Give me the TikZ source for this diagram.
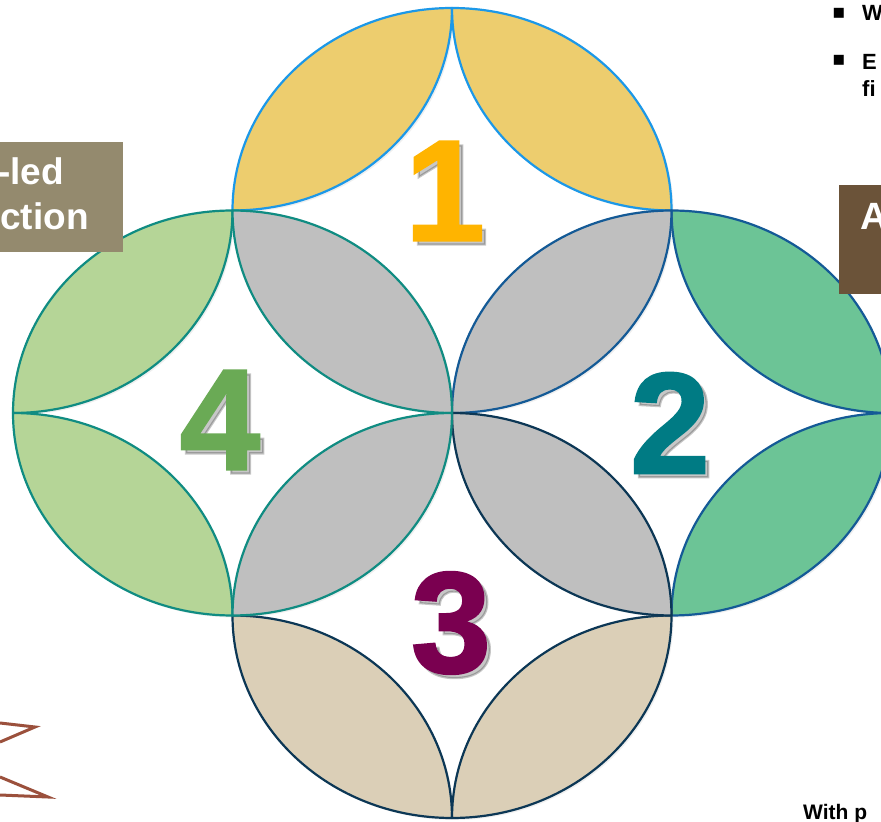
\documentclass[tikz,border=0pt]{standalone}
\usepackage{fontspec}
\setmainfont{Liberation Sans}
\newfontfamily\symfont{DejaVu Sans}
\newfontfamily\numfont[BoldFeatures={FakeBold=1.6}]{Liberation Sans}
\usetikzlibrary{shadows}
\definecolor{yelfill}{RGB}{237,205,110}
\definecolor{yelline}{RGB}{28,152,232}
\definecolor{lgrfill}{RGB}{181,213,151}
\definecolor{lgrline}{RGB}{16,140,130}
\definecolor{grnfill}{RGB}{108,196,150}
\definecolor{grnline}{RGB}{20,90,150}
\definecolor{tanfill}{RGB}{219,207,183}
\definecolor{tanline}{RGB}{12,55,85}
\definecolor{gryfill}{RGB}{191,191,191}
\definecolor{numA}{RGB}{255,180,0}
\definecolor{numB}{RGB}{0,123,132}
\definecolor{numC}{RGB}{122,0,80}
\definecolor{numD}{RGB}{106,170,85}
\definecolor{boxL}{RGB}{148,138,110}
\definecolor{boxR}{RGB}{107,83,57}
\definecolor{zigcol}{RGB}{155,80,60}
\newcommand\lens[6]{%
  \path[#1] #2
    arc[start angle=#3,end angle=#4,x radius=219.5pt,y radius=202.5pt]
    arc[start angle=#5,end angle=#6,x radius=219.5pt,y radius=202.5pt] -- cycle;}
\tikzset{
  petal/.style={line width=2.2pt, line join=round,
    drop shadow={shadow xshift=2pt, shadow yshift=-2pt, opacity=0.12}},
  num/.style={inner sep=0pt, font=\numfont\fontsize{144}{144}\selectfont\bfseries},
  numshadow/.style={num, text=black, opacity=0.22},
  boxtext/.style={inner sep=0pt, text=white, font=\bfseries},
  bullettext/.style={inner sep=0pt, font=\fontsize{22}{26}\selectfont\bfseries}
}
\begin{document}
\begin{tikzpicture}[x=1pt,y=1pt]
\useasboundingbox (0,0) rectangle (881,822);
\fill[white] (0,0) rectangle (881,822);
\begin{scope}[shift={(452,409)}]
  % group 1 (yellow)
  \lens{petal,fill=yelfill,draw=yelline}{(-219.5,202.5)}{180}{90}{0}{-90}
  \lens{petal,fill=yelfill,draw=yelline}{(219.5,202.5)}{0}{90}{180}{270}
  % group 2 (green)
  \lens{petal,fill=grnfill,draw=grnline}{(439,0)}{0}{90}{180}{270}
  \lens{petal,fill=grnfill,draw=grnline}{(439,0)}{0}{-90}{180}{90}
  \lens{petal,fill=gryfill,draw=grnline}{(219.5,202.5)}{0}{-90}{180}{90}
  % group 3 (tan)
  \lens{petal,fill=tanfill,draw=tanline}{(-219.5,-202.5)}{180}{270}{0}{90}
  \lens{petal,fill=tanfill,draw=tanline}{(219.5,-202.5)}{0}{-90}{180}{90}
  \lens{petal,fill=gryfill,draw=tanline}{(0,0)}{180}{270}{0}{90}
  % group 4 (light green)
  \lens{petal,fill=lgrfill,draw=lgrline}{(-439,0)}{180}{90}{0}{-90}
  \lens{petal,fill=lgrfill,draw=lgrline}{(-439,0)}{180}{270}{0}{90}
  \lens{petal,fill=gryfill,draw=lgrline}{(-219.5,202.5)}{180}{270}{0}{90}
  \lens{petal,fill=gryfill,draw=lgrline}{(0,0)}{0}{-90}{180}{90}
\end{scope}
% numbers
\node[numshadow] (s1) at (449,627) {1};
\node[num, text=numA] (n1) at (445,631) {1};
\node[numshadow] (s2) at (674,395) {2};
\node[num, text=numB] (n2) at (670,399) {2};
\node[numshadow] (s3) at (455,195) {3};
\node[num, text=numC] (n3) at (451,199) {3};
\node[numshadow] (s4) at (224,398) {4};
\node[num, text=numD] (n4) at (220,402) {4};
% left box
\fill[boxL] (0,570) rectangle (123,680);
\node[boxtext, font=\fontsize{37}{42}\selectfont\bfseries, anchor=base east] (tl1) at (64,637) {-led};
\node[boxtext, font=\fontsize{37}{42}\selectfont\bfseries, anchor=base east] (tl2) at (89,592) {ction};
% right box
\fill[boxR] (839,528) rectangle (881,637);
\node[boxtext, font=\fontsize{38}{44}\selectfont\bfseries, anchor=base west] (tr1) at (860,592) {A};
% bullets
\node[inner sep=0pt, font=\symfont\fontsize{20}{24}\selectfont] (b1) at (839,809) {▪};
\node[bullettext, anchor=base west] (bt1) at (862,801) {W};
\node[inner sep=0pt, font=\symfont\fontsize{20}{24}\selectfont] (b2) at (839,762) {▪};
\node[bullettext, anchor=base west] (bt2) at (862,752) {E};
\node[bullettext, anchor=base west] (bt3) at (862,725) {fi};
\node[bullettext, font=\fontsize{21}{24}\selectfont\bfseries, anchor=base west] (wp) at (803,2) {With p};
% zigzag
\draw[zigcol, line width=3pt, line join=miter] (0,99) -- (35,95) -- (0,80);
\draw[zigcol, line width=3pt, line join=miter] (0,45) -- (48,25) -- (0,27);
\end{tikzpicture}
\end{document}
